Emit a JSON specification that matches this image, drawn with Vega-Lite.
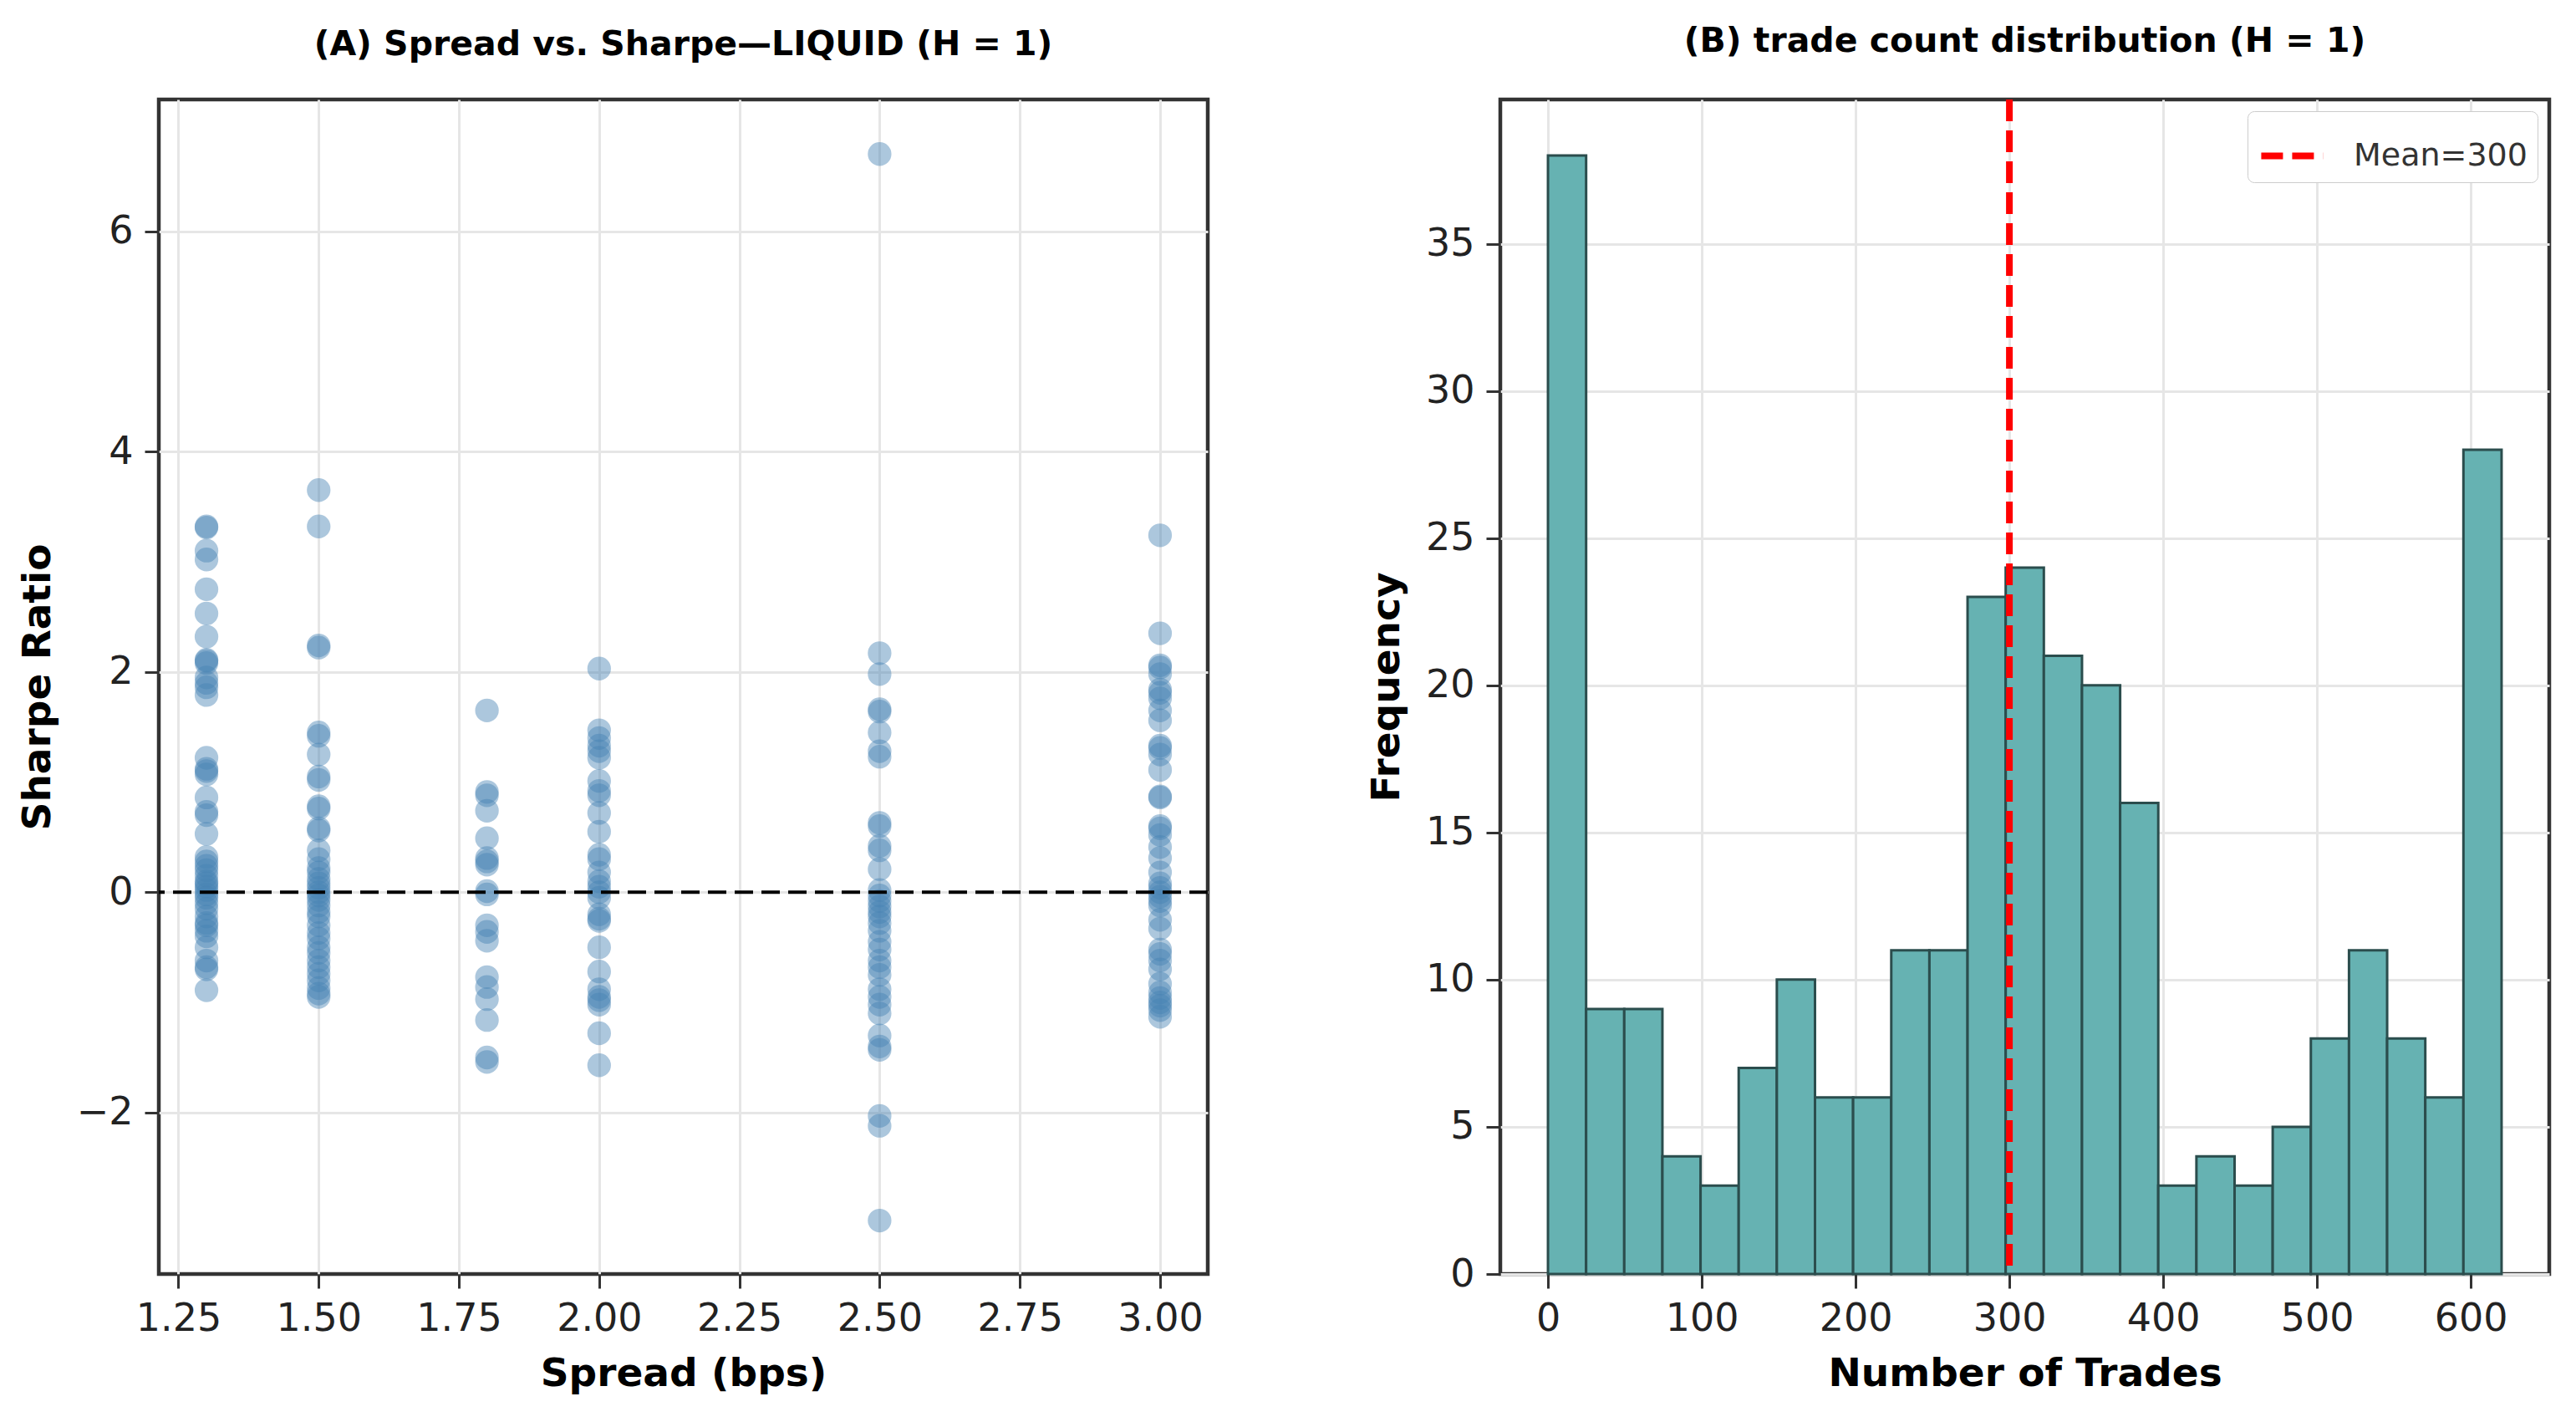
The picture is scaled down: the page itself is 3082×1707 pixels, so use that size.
{
  "$schema": "https://vega.github.io/schema/vega-lite/v6.json",
  "padding": {"left": 18, "top": 26, "right": 0, "bottom": 0},
  "spacing": 183,
  "resolve": {"scale": {"color": "independent"}, "legend": {"color": "independent"}},
  "config": {
    "font": "DejaVu Sans",
    "view": {"stroke": "#333333", "strokeWidth": 4.5},
    "axis": {
      "labelFont": "DejaVu Sans",
      "labelFontSize": 46,
      "labelColor": "#222222",
      "titleFont": "DejaVu Sans",
      "titleFontSize": 47,
      "titleFontWeight": "bold",
      "titleColor": "#000000",
      "tickSize": 17,
      "tickWidth": 3,
      "tickColor": "#333333",
      "domain": false,
      "gridColor": "#e6e6e6",
      "gridWidth": 3,
      "labelPadding": 14
    },
    "axisX": {"titlePadding": 20},
    "axisY": {"titlePadding": 22},
    "title": {
      "font": "DejaVu Sans",
      "fontSize": 41,
      "fontWeight": "bold",
      "color": "#000000",
      "frame": "group",
      "baseline": "alphabetic",
      "offset": 44
    }
  },
  "datasets": {
    "scatter": [
      {"spread": 1.3, "sharpe": 3.32}, {"spread": 1.3, "sharpe": 3.31}, {"spread": 1.3, "sharpe": 3.10}, {"spread": 1.3, "sharpe": 3.02},
      {"spread": 1.3, "sharpe": 2.75}, {"spread": 1.3, "sharpe": 2.53}, {"spread": 1.3, "sharpe": 2.32}, {"spread": 1.3, "sharpe": 2.11},
      {"spread": 1.3, "sharpe": 2.10}, {"spread": 1.3, "sharpe": 2.08}, {"spread": 1.3, "sharpe": 1.95}, {"spread": 1.3, "sharpe": 1.90},
      {"spread": 1.3, "sharpe": 1.86}, {"spread": 1.3, "sharpe": 1.79}, {"spread": 1.3, "sharpe": 1.22}, {"spread": 1.3, "sharpe": 1.12},
      {"spread": 1.3, "sharpe": 1.10}, {"spread": 1.3, "sharpe": 1.07}, {"spread": 1.3, "sharpe": 0.86}, {"spread": 1.3, "sharpe": 0.73},
      {"spread": 1.3, "sharpe": 0.70}, {"spread": 1.3, "sharpe": 0.53}, {"spread": 1.3, "sharpe": 0.32}, {"spread": 1.3, "sharpe": 0.28},
      {"spread": 1.3, "sharpe": 0.24}, {"spread": 1.3, "sharpe": 0.20}, {"spread": 1.3, "sharpe": 0.15}, {"spread": 1.3, "sharpe": 0.10},
      {"spread": 1.3, "sharpe": 0.08}, {"spread": 1.3, "sharpe": 0.05}, {"spread": 1.3, "sharpe": 0.02}, {"spread": 1.3, "sharpe": -0.02},
      {"spread": 1.3, "sharpe": -0.05}, {"spread": 1.3, "sharpe": -0.10}, {"spread": 1.3, "sharpe": -0.15}, {"spread": 1.3, "sharpe": -0.22},
      {"spread": 1.3, "sharpe": -0.28}, {"spread": 1.3, "sharpe": -0.30}, {"spread": 1.3, "sharpe": -0.35}, {"spread": 1.3, "sharpe": -0.40},
      {"spread": 1.3, "sharpe": -0.50}, {"spread": 1.3, "sharpe": -0.62}, {"spread": 1.3, "sharpe": -0.68}, {"spread": 1.3, "sharpe": -0.70},
      {"spread": 1.3, "sharpe": -0.89},
      {"spread": 1.5, "sharpe": 3.65}, {"spread": 1.5, "sharpe": 3.32}, {"spread": 1.5, "sharpe": 2.24}, {"spread": 1.5, "sharpe": 2.22},
      {"spread": 1.5, "sharpe": 1.45}, {"spread": 1.5, "sharpe": 1.42}, {"spread": 1.5, "sharpe": 1.25}, {"spread": 1.5, "sharpe": 1.05},
      {"spread": 1.5, "sharpe": 1.02}, {"spread": 1.5, "sharpe": 0.78}, {"spread": 1.5, "sharpe": 0.76}, {"spread": 1.5, "sharpe": 0.58},
      {"spread": 1.5, "sharpe": 0.56}, {"spread": 1.5, "sharpe": 0.38}, {"spread": 1.5, "sharpe": 0.30}, {"spread": 1.5, "sharpe": 0.22},
      {"spread": 1.5, "sharpe": 0.18}, {"spread": 1.5, "sharpe": 0.12}, {"spread": 1.5, "sharpe": 0.08}, {"spread": 1.5, "sharpe": 0.04},
      {"spread": 1.5, "sharpe": 0.00}, {"spread": 1.5, "sharpe": -0.03}, {"spread": 1.5, "sharpe": -0.07}, {"spread": 1.5, "sharpe": -0.12},
      {"spread": 1.5, "sharpe": -0.18}, {"spread": 1.5, "sharpe": -0.22}, {"spread": 1.5, "sharpe": -0.30}, {"spread": 1.5, "sharpe": -0.37},
      {"spread": 1.5, "sharpe": -0.42}, {"spread": 1.5, "sharpe": -0.50}, {"spread": 1.5, "sharpe": -0.55}, {"spread": 1.5, "sharpe": -0.62},
      {"spread": 1.5, "sharpe": -0.68}, {"spread": 1.5, "sharpe": -0.74}, {"spread": 1.5, "sharpe": -0.80}, {"spread": 1.5, "sharpe": -0.87},
      {"spread": 1.5, "sharpe": -0.92}, {"spread": 1.5, "sharpe": -0.95},
      {"spread": 1.8, "sharpe": 1.65}, {"spread": 1.8, "sharpe": 0.91}, {"spread": 1.8, "sharpe": 0.88}, {"spread": 1.8, "sharpe": 0.74},
      {"spread": 1.8, "sharpe": 0.49}, {"spread": 1.8, "sharpe": 0.31}, {"spread": 1.8, "sharpe": 0.28}, {"spread": 1.8, "sharpe": 0.25},
      {"spread": 1.8, "sharpe": 0.01}, {"spread": 1.8, "sharpe": -0.02}, {"spread": 1.8, "sharpe": -0.30}, {"spread": 1.8, "sharpe": -0.36},
      {"spread": 1.8, "sharpe": -0.44}, {"spread": 1.8, "sharpe": -0.77}, {"spread": 1.8, "sharpe": -0.86}, {"spread": 1.8, "sharpe": -0.97},
      {"spread": 1.8, "sharpe": -1.16}, {"spread": 1.8, "sharpe": -1.50}, {"spread": 1.8, "sharpe": -1.54},
      {"spread": 2.0, "sharpe": 2.03}, {"spread": 2.0, "sharpe": 1.47}, {"spread": 2.0, "sharpe": 1.40}, {"spread": 2.0, "sharpe": 1.33},
      {"spread": 2.0, "sharpe": 1.28}, {"spread": 2.0, "sharpe": 1.22}, {"spread": 2.0, "sharpe": 1.01}, {"spread": 2.0, "sharpe": 0.92},
      {"spread": 2.0, "sharpe": 0.88}, {"spread": 2.0, "sharpe": 0.72}, {"spread": 2.0, "sharpe": 0.55}, {"spread": 2.0, "sharpe": 0.34},
      {"spread": 2.0, "sharpe": 0.30}, {"spread": 2.0, "sharpe": 0.18}, {"spread": 2.0, "sharpe": 0.10}, {"spread": 2.0, "sharpe": 0.05},
      {"spread": 2.0, "sharpe": 0.00}, {"spread": 2.0, "sharpe": -0.05}, {"spread": 2.0, "sharpe": -0.20}, {"spread": 2.0, "sharpe": -0.24},
      {"spread": 2.0, "sharpe": -0.26}, {"spread": 2.0, "sharpe": -0.50}, {"spread": 2.0, "sharpe": -0.72}, {"spread": 2.0, "sharpe": -0.88},
      {"spread": 2.0, "sharpe": -0.95}, {"spread": 2.0, "sharpe": -0.98}, {"spread": 2.0, "sharpe": -1.02}, {"spread": 2.0, "sharpe": -1.28},
      {"spread": 2.0, "sharpe": -1.57},
      {"spread": 2.5, "sharpe": 6.70}, {"spread": 2.5, "sharpe": 2.17}, {"spread": 2.5, "sharpe": 1.98}, {"spread": 2.5, "sharpe": 1.66},
      {"spread": 2.5, "sharpe": 1.64}, {"spread": 2.5, "sharpe": 1.45}, {"spread": 2.5, "sharpe": 1.28}, {"spread": 2.5, "sharpe": 1.23},
      {"spread": 2.5, "sharpe": 0.63}, {"spread": 2.5, "sharpe": 0.60}, {"spread": 2.5, "sharpe": 0.42}, {"spread": 2.5, "sharpe": 0.38},
      {"spread": 2.5, "sharpe": 0.21}, {"spread": 2.5, "sharpe": 0.02}, {"spread": 2.5, "sharpe": -0.03}, {"spread": 2.5, "sharpe": -0.08},
      {"spread": 2.5, "sharpe": -0.13}, {"spread": 2.5, "sharpe": -0.18}, {"spread": 2.5, "sharpe": -0.22}, {"spread": 2.5, "sharpe": -0.28},
      {"spread": 2.5, "sharpe": -0.35}, {"spread": 2.5, "sharpe": -0.45}, {"spread": 2.5, "sharpe": -0.52}, {"spread": 2.5, "sharpe": -0.62},
      {"spread": 2.5, "sharpe": -0.68}, {"spread": 2.5, "sharpe": -0.75}, {"spread": 2.5, "sharpe": -0.88}, {"spread": 2.5, "sharpe": -0.95},
      {"spread": 2.5, "sharpe": -1.02}, {"spread": 2.5, "sharpe": -1.10}, {"spread": 2.5, "sharpe": -1.30}, {"spread": 2.5, "sharpe": -1.40},
      {"spread": 2.5, "sharpe": -1.43}, {"spread": 2.5, "sharpe": -2.03}, {"spread": 2.5, "sharpe": -2.12}, {"spread": 2.5, "sharpe": -2.98},
      {"spread": 3.0, "sharpe": 3.24}, {"spread": 3.0, "sharpe": 2.35}, {"spread": 3.0, "sharpe": 2.06}, {"spread": 3.0, "sharpe": 2.04},
      {"spread": 3.0, "sharpe": 1.98}, {"spread": 3.0, "sharpe": 1.84}, {"spread": 3.0, "sharpe": 1.81}, {"spread": 3.0, "sharpe": 1.76},
      {"spread": 3.0, "sharpe": 1.65}, {"spread": 3.0, "sharpe": 1.56}, {"spread": 3.0, "sharpe": 1.33}, {"spread": 3.0, "sharpe": 1.31},
      {"spread": 3.0, "sharpe": 1.25}, {"spread": 3.0, "sharpe": 1.11}, {"spread": 3.0, "sharpe": 0.87}, {"spread": 3.0, "sharpe": 0.86},
      {"spread": 3.0, "sharpe": 0.60}, {"spread": 3.0, "sharpe": 0.58}, {"spread": 3.0, "sharpe": 0.52}, {"spread": 3.0, "sharpe": 0.41},
      {"spread": 3.0, "sharpe": 0.31}, {"spread": 3.0, "sharpe": 0.18}, {"spread": 3.0, "sharpe": 0.08}, {"spread": 3.0, "sharpe": 0.04},
      {"spread": 3.0, "sharpe": 0.00}, {"spread": 3.0, "sharpe": -0.04}, {"spread": 3.0, "sharpe": -0.08}, {"spread": 3.0, "sharpe": -0.12},
      {"spread": 3.0, "sharpe": -0.25}, {"spread": 3.0, "sharpe": -0.33}, {"spread": 3.0, "sharpe": -0.52}, {"spread": 3.0, "sharpe": -0.56},
      {"spread": 3.0, "sharpe": -0.62}, {"spread": 3.0, "sharpe": -0.70}, {"spread": 3.0, "sharpe": -0.83}, {"spread": 3.0, "sharpe": -0.91},
      {"spread": 3.0, "sharpe": -0.96}, {"spread": 3.0, "sharpe": -1.00}, {"spread": 3.0, "sharpe": -1.03}, {"spread": 3.0, "sharpe": -1.07},
      {"spread": 3.0, "sharpe": -1.13}
    ],
    "hist": [
      {"bin_start": 0, "bin_end": 24.8, "count": 38},
      {"bin_start": 24.8, "bin_end": 49.6, "count": 9},
      {"bin_start": 49.6, "bin_end": 74.4, "count": 9},
      {"bin_start": 74.4, "bin_end": 99.2, "count": 4},
      {"bin_start": 99.2, "bin_end": 124, "count": 3},
      {"bin_start": 124, "bin_end": 148.8, "count": 7},
      {"bin_start": 148.8, "bin_end": 173.6, "count": 10},
      {"bin_start": 173.6, "bin_end": 198.4, "count": 6},
      {"bin_start": 198.4, "bin_end": 223.2, "count": 6},
      {"bin_start": 223.2, "bin_end": 248, "count": 11},
      {"bin_start": 248, "bin_end": 272.8, "count": 11},
      {"bin_start": 272.8, "bin_end": 297.6, "count": 23},
      {"bin_start": 297.6, "bin_end": 322.4, "count": 24},
      {"bin_start": 322.4, "bin_end": 347.2, "count": 21},
      {"bin_start": 347.2, "bin_end": 372, "count": 20},
      {"bin_start": 372, "bin_end": 396.8, "count": 16},
      {"bin_start": 396.8, "bin_end": 421.6, "count": 3},
      {"bin_start": 421.6, "bin_end": 446.4, "count": 4},
      {"bin_start": 446.4, "bin_end": 471.2, "count": 3},
      {"bin_start": 471.2, "bin_end": 496, "count": 5},
      {"bin_start": 496, "bin_end": 520.8, "count": 8},
      {"bin_start": 520.8, "bin_end": 545.6, "count": 11},
      {"bin_start": 545.6, "bin_end": 570.4, "count": 8},
      {"bin_start": 570.4, "bin_end": 595.2, "count": 6},
      {"bin_start": 595.2, "bin_end": 620, "count": 28}
    ]
  },
  "hconcat": [
    {
      "width": 1255,
      "height": 1405,
      "title": "(A) Spread vs. Sharpe\u2014LIQUID (H = 1)",
      "layer": [
        {
          "data": {"name": "scatter"},
          "mark": {"type": "point", "shape": "circle", "filled": true, "size": 800, "color": "steelblue", "opacity": 0.45, "strokeWidth": 0},
          "encoding": {
            "x": {
              "field": "spread",
              "type": "quantitative",
              "scale": {"domain": [1.215, 3.085], "nice": false, "zero": false},
              "axis": {"values": [1.25, 1.5, 1.75, 2.0, 2.25, 2.5, 2.75, 3.0], "format": ".2f", "title": "Spread (bps)"}
            },
            "y": {
              "field": "sharpe",
              "type": "quantitative",
              "scale": {"domain": [-3.465, 7.195], "nice": false, "zero": false},
              "axis": {"values": [-2, 0, 2, 4, 6], "format": "d", "title": "Sharpe Ratio"}
            }
          }
        },
        {
          "data": {"values": [{}]},
          "mark": {"type": "rule", "color": "#000000", "strokeDash": [22, 10], "strokeWidth": 4},
          "encoding": {"y": {"datum": 0}}
        }
      ]
    },
    {
      "width": 1255,
      "height": 1405,
      "title": "(B) trade count distribution (H = 1)",
      "layer": [
        {
          "data": {"name": "hist"},
          "mark": {"type": "bar", "fill": "#66b2b2", "stroke": "#2b4d4d", "strokeWidth": 3},
          "encoding": {
            "x": {
              "field": "bin_start",
              "type": "quantitative",
              "scale": {"domain": [-31, 651], "nice": false, "zero": false},
              "axis": {"values": [0, 100, 200, 300, 400, 500, 600], "format": "d", "title": "Number of Trades"}
            },
            "x2": {"field": "bin_end"},
            "y": {
              "field": "count",
              "type": "quantitative",
              "scale": {"domain": [0, 39.9], "nice": false},
              "axis": {"values": [0, 5, 10, 15, 20, 25, 30, 35], "format": "d", "title": "Frequency"}
            },
            "y2": {"datum": 0}
          }
        },
        {
          "data": {"values": [{}]},
          "mark": {"type": "rule", "strokeDash": [26, 11], "strokeWidth": 8},
          "encoding": {
            "x": {"datum": 300},
            "color": {
              "datum": "Mean=300",
              "type": "nominal",
              "scale": {"range": ["#ff0000"]},
              "legend": {
                "title": null,
                "orient": "top-right",
                "offset": 14,
                "symbolType": "stroke",
                "symbolStrokeWidth": 8,
                "symbolDash": [26, 11],
                "symbolSize": 5500,
                "labelFontSize": 38,
                "labelColor": "#333333",
                "labelOffset": 32,
                "labelLimit": 400,
                "strokeColor": "#cccccc",
                "fillColor": "#ffffff",
                "padding": 12,
                "cornerRadius": 8
              }
            }
          }
        }
      ]
    }
  ]
}
